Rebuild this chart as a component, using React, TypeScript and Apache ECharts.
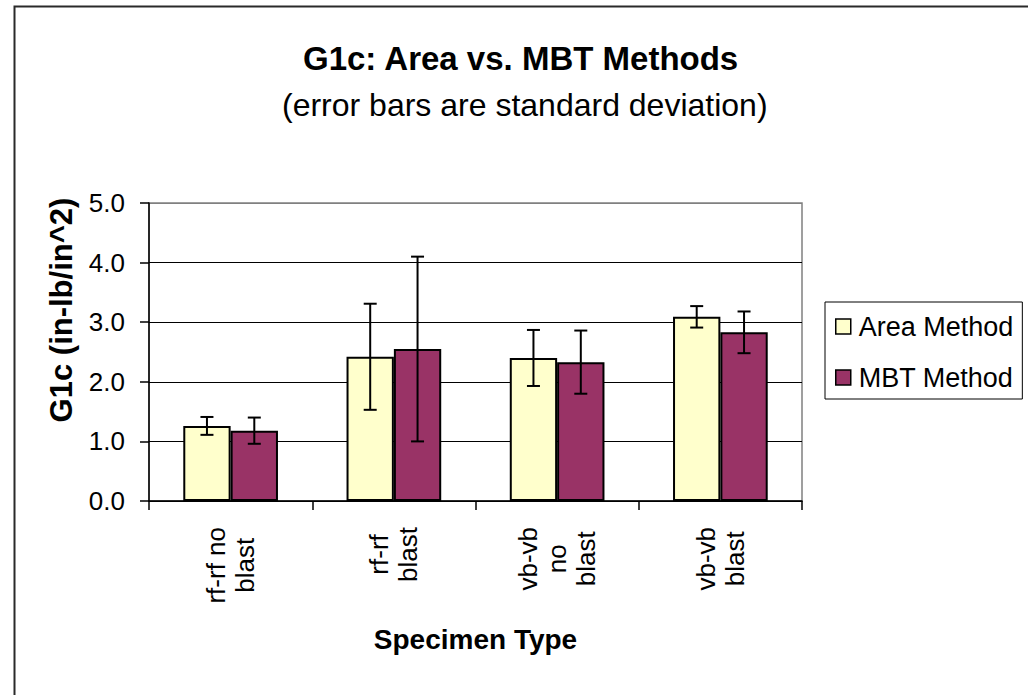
import { useEffect, useRef } from 'react';
import * as echarts from 'echarts';

const categories = ['rf-rf no\nblast', 'rf-rf\nblast', 'vb-vb\nno\nblast', 'vb-vb\nblast'];
const seriesNames = ['Area Method', 'MBT Method'];
const areaValues = [1.26, 2.42, 2.40, 3.09];
const mbtValues = [1.18, 2.55, 2.33, 2.83];
const areaStdDev = [0.15, 0.89, 0.47, 0.18];
const mbtStdDev = [0.22, 1.55, 0.53, 0.35];
const yMin = 0;
const yMax = 5;
const yInterval = 1;

const BAR_CATEGORY_GAP = 0.42;
const FONT = '"Liberation Sans", Arial, sans-serif';

export default function App() {
  const ref = useRef<HTMLDivElement>(null);
  useEffect(() => {
    const chart = echarts.init(ref.current as HTMLDivElement, null, { renderer: 'svg' });
    const errData = (vals: number[], sds: number[]) => vals.map((v, i) => [i, v - sds[i], v + sds[i]]);
    const makeErr = (seriesIdx: number) => (_params: any, api: any) => {
      const ci = api.value(0);
      const lowP = api.coord([ci, api.value(1)]);
      const highP = api.coord([ci, api.value(2)]);
      const band = api.size([1, 0])[0];
      const barW = (band * (1 - BAR_CATEGORY_GAP)) / 2;
      const x = lowP[0] + (seriesIdx === 0 ? -barW / 2 : barW / 2);
      const cap = 6.5;
      const style = { stroke: '#000', lineWidth: 2 };
      return {
        type: 'group',
        children: [
          { type: 'line', shape: { x1: x, y1: highP[1], x2: x, y2: lowP[1] }, style },
          { type: 'line', shape: { x1: x - cap, y1: highP[1], x2: x + cap, y2: highP[1] }, style },
          { type: 'line', shape: { x1: x - cap, y1: lowP[1], x2: x + cap, y2: lowP[1] }, style },
        ],
      };
    };

    chart.setOption({
      animation: false,
      backgroundColor: '#fff',
      textStyle: { fontFamily: FONT, color: '#000' },
      title: [
        {
          text: 'G1c: Area vs. MBT Methods',
          left: 303,
          top: 42,
          padding: 0,
          textStyle: { fontFamily: FONT, fontSize: 33, fontWeight: 'bold', color: '#000' },
        },
        {
          text: '(error bars are standard deviation)',
          left: 282,
          top: 89,
          padding: 0,
          textStyle: { fontFamily: FONT, fontSize: 32, fontWeight: 'normal', color: '#000' },
        },
      ],
      graphic: [
        {
          type: 'rect',
          shape: { x: 14.5, y: 6.5, width: 1100, height: 800 },
          style: { fill: 'none', stroke: '#2a2a2a', lineWidth: 2 },
          silent: true,
        },
      ],
      legend: {
        data: seriesNames,
        orient: 'vertical',
        left: 825,
        top: 302,
        padding: [11, 9, 8, 10],
        itemGap: 24,
        itemWidth: 15,
        itemHeight: 15,
        borderColor: '#000',
        borderWidth: 1,
        icon: 'rect',
        itemStyle: { borderColor: '#000', borderWidth: 1.5 },
        textStyle: { fontFamily: FONT, fontSize: 27, color: '#000', padding: [0, 0, 0, 3] },
      },
      grid: {
        left: 149,
        top: 203,
        width: 653,
        height: 298,
        show: true,
        borderColor: '#808080',
        borderWidth: 1.5,
        backgroundColor: '#fff',
      },
      xAxis: {
        type: 'category',
        data: categories,
        name: 'Specimen Type',
        nameLocation: 'middle',
        nameGap: 124,
        nameTextStyle: { fontFamily: FONT, fontSize: 28, fontWeight: 'bold', color: '#000' },
        axisLine: { lineStyle: { color: '#000', width: 1.5 } },
        axisTick: { show: true, alignWithLabel: false, interval: 0, length: 9, lineStyle: { color: '#000', width: 1.5 } },
        axisLabel: {
          interval: 0,
          rotate: 90,
          margin: 26,
          fontFamily: FONT,
          fontSize: 26,
          color: '#000',
          formatter: (v: string) => v.split('\n').map((l) => `{c|${l}}`).join('\n'),
          rich: { c: { align: 'center', fontFamily: FONT, fontSize: 26, lineHeight: 29, color: '#000' } },
        },
      },
      yAxis: {
        type: 'value',
        min: yMin,
        max: yMax,
        interval: yInterval,
        name: 'G1c (in-lb/in^2)',
        nameLocation: 'middle',
        nameRotate: 90,
        nameGap: 72,
        nameTextStyle: {
          fontFamily: FONT,
          fontSize: 31,
          fontWeight: 'bold',
          color: '#000',
          padding: [0, 0, 0, 84],
        },
        axisLine: { show: true, lineStyle: { color: '#000', width: 1.5 } },
        axisTick: { show: true, length: 9, lineStyle: { color: '#000', width: 1.5 } },
        axisLabel: {
          margin: 24,
          fontFamily: FONT,
          fontSize: 26,
          color: '#000',
          formatter: (v: number) => v.toFixed(1),
        },
        splitLine: {
          show: true,
          lineStyle: { color: ['#000', '#000', '#000', '#000', '#000', '#808080'], width: 1.2 },
        },
      },
      series: [
        {
          name: seriesNames[0],
          type: 'bar',
          data: areaValues,
          barGap: '0%',
          barCategoryGap: `${BAR_CATEGORY_GAP * 100}%`,
          itemStyle: { color: '#FFFFCC', borderColor: '#000', borderWidth: 2 },
        },
        {
          name: seriesNames[1],
          type: 'bar',
          data: mbtValues,
          barGap: '0%',
          barCategoryGap: `${BAR_CATEGORY_GAP * 100}%`,
          itemStyle: { color: '#993366', borderColor: '#000', borderWidth: 2 },
        },
        {
          name: 'Area SD',
          type: 'custom',
          renderItem: makeErr(0),
          data: errData(areaValues, areaStdDev),
          encode: { x: 0, y: [1, 2] },
          z: 5,
          silent: true,
        },
        {
          name: 'MBT SD',
          type: 'custom',
          renderItem: makeErr(1),
          data: errData(mbtValues, mbtStdDev),
          encode: { x: 0, y: [1, 2] },
          z: 5,
          silent: true,
        },
      ],
    });
    return () => chart.dispose();
  }, []);
  return (
    <div
      ref={ref}
      style={{ position: 'fixed', left: 0, top: 0, width: 1028, height: 695, background: '#fff' }}
    />
  );
}
